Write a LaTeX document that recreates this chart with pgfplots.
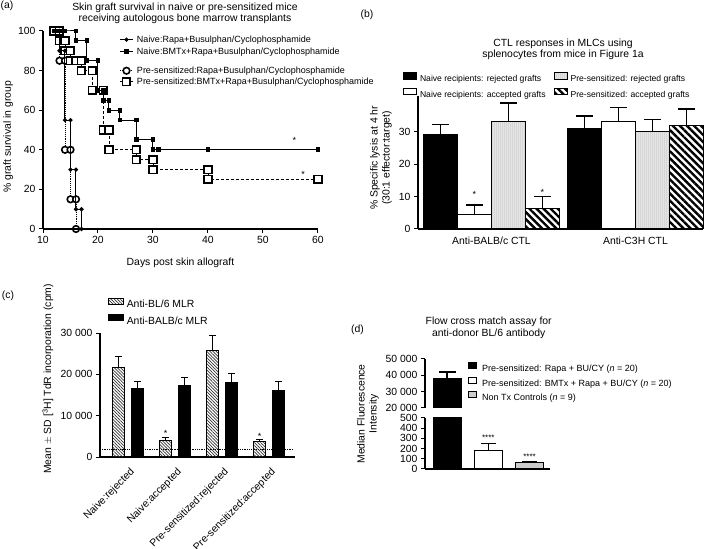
\documentclass[border=0pt]{standalone}
\usepackage{fontspec}
\setmainfont{Liberation Sans}
\usepackage{pgfplots}
\pgfplotsset{compat=1.18}
\usetikzlibrary{patterns,patterns.meta}
\newcommand\fT{\fontsize{10.4bp}{12bp}\selectfont}
\newcommand\fL{\fontsize{9bp}{10.5bp}\selectfont}
\newcommand\fB{\fontsize{8.6bp}{10bp}\selectfont}
\newcommand\fS{\fontsize{8bp}{9bp}\selectfont}
\pgfplotsset{
  gp/.style={
    scale only axis, anchor=south west,
    axis x line*=bottom, axis y line*=left,
    axis line style={-, line width=1.1bp, black},
    tick align=outside, major tick length=4bp,
    tick style={black, line width=1bp},
    tick label style={font=\fT},
    scaled y ticks=false,
    /pgf/number format/assume math mode=true,
    legend style={draw=none, fill=none, inner sep=0pt, outer sep=0pt, anchor=north west},
    legend cell align=left,
  },
  ebar/.style={/pgfplots/error bars/y dir=plus, /pgfplots/error bars/y explicit,
    /pgfplots/error bars/error bar style={line width=1.3bp, black, solid},
    /pgfplots/error bars/error mark options={rotate=90, line width=1.3bp, black, mark size=#1, solid}},
}
\begin{document}
\begin{tikzpicture}
\useasboundingbox (0,0) rectangle (709bp,549bp);
% ---------------- (a) ----------------
\node[font=\fT] at (7bp,543bp) {(a)};
\node[font=\fT, anchor=base] at (185bp,538.5bp) {Skin graft survival in naive or pre-sensitized mice};
\node[font=\fT, anchor=base] at (185bp,527.5bp) {receiving autologous bone marrow transplants};
\begin{axis}[gp, at={(43bp,320bp)}, width=275bp, height=198bp,
  xmin=10, xmax=60, ymin=0, ymax=100, hide axis, clip=false,
  legend style={at={(axis description cs:0.28,0.822)}, font=\fL, row sep=2bp,
     nodes={inner sep=0pt, text height=7bp, text depth=2bp},
     /tikz/every odd column/.append style={column sep=4bp}},
  legend image code/.code={\path[draw=none,fill=none] (0bp,-3bp) rectangle (13bp,3bp);
     \draw[mark repeat=2,mark phase=2,#1,overlay] plot coordinates {(0bp,0bp) (6.5bp,0bp) (13bp,0bp)};},
]
\addplot[black, line width=0.9bp, densely dotted, mark=*, mark size=3.3bp, mark options={solid, fill=white, draw=black, line width=1.6bp}]
 coordinates {(12,100) (13,100) (13,85) (14,85) (14,40) (15,40) (15,15) (16,15) (16,0)};
\addlegendentry{Pre-sensitized:Rapa+Busulphan/Cyclophosphamide}
\addplot[black, line width=0.9bp, dash pattern=on 3bp off 2bp, mark=square*, mark size=3.8bp, mark options={solid, fill=white, draw=black, line width=1.6bp}]
 coordinates {(12,100) (13,100) (13,95) (14,95) (14,90) (15,90) (15,85) (16,85) (17,85) (17,80) (19,80) (19,70) (21,70) (21,50) (22,50) (22,40) (27,40) (27,35) (30,35) (30,30) (40,30) (40,25) (60,25)};
\addlegendentry{Pre-sensitized:BMTx+Rapa+Busulphan/Cyclophosphamide}
\end{axis}
\begin{axis}[gp, at={(43bp,320bp)}, width=275bp, height=198bp,
  xmin=10, xmax=60, ymin=0, ymax=100, xtick={10,20,...,60}, ytick={0,20,...,100}, clip=false,
  xlabel={Days post skin allograft}, ylabel={\% graft survival in group},
  every axis x label/.style={at={(axis description cs:0.5,-0.182)}, anchor=base, font=\fT},
  every axis y label/.style={at={(axis description cs:-0.127,0.465)}, rotate=90, anchor=center, font=\fT},
  legend style={at={(axis description cs:0.28,0.979)}, font=\fL, row sep=3bp,
     nodes={inner sep=0pt, text height=7bp, text depth=2bp},
     /tikz/every odd column/.append style={column sep=4bp}},
  legend image code/.code={\path[draw=none,fill=none] (0bp,-3bp) rectangle (13bp,3bp);
     \draw[mark repeat=2,mark phase=2,#1,overlay] plot coordinates {(0bp,0bp) (6.5bp,0bp) (13bp,0bp)};},
]
\addplot[black, line width=1bp, mark=*, mark size=1.6bp]
 coordinates {(12,100) (13,100) (13,90) (14,90) (14,55) (15,55) (15,30) (16,30) (16,10) (17,10) (17,0)};
\addlegendentry{Naive:Rapa+Busulphan/Cyclophosphamide}
\addplot[black, line width=1bp, mark=square*, mark size=1.9bp]
 coordinates {(12,100) (12.5,100) (13,100) (13.5,100) (14,100) (16,100) (16,95) (18,95) (18,85) (20,85) (20,70) (21,70) (21,65) (22,65) (22,60) (24,60) (24,55) (27,55) (27,45) (30,45) (30,40) (31,40) (40,40) (60,40)};
\addlegendentry{Naive:BMTx+Rapa+Busulphan/Cyclophosphamide}
\node[font=\fL] at (axis cs:55.7,44.5) {*};
\node[font=\fL] at (axis cs:57.3,27.5) {*};
\end{axis}
% ---------------- (b) ----------------
\node[font=\fT] at (367bp,534bp) {(b)};
\node[font=\fT, anchor=base] at (563bp,502.5bp) {CTL responses in MLCs using};
\node[font=\fT, anchor=base] at (563bp,491bp) {splenocytes from mice in Figure 1a};
\begin{axis}[gp, at={(418bp,320bp)}, width=285bp, height=133bp,
  ymin=0, ymax=41.1, ytick={0,10,20,30},
  xmin=-0.51, xmax=1.469, xtick={0,1}, xticklabels={Anti-BALB/c CTL,Anti-C3H CTL},
  major x tick style={draw=none},
  ybar=0pt, bar width=34bp, clip=false,
  ylabel={\% Specific lysis at 4 hr\\(30:1 effector:target)},
  every axis y label/.style={at={(axis description cs:-0.13,0.534)}, rotate=90, anchor=center, align=center, font=\fT},
  legend columns=2, transpose legend,
  legend style={at={(axis description cs:-0.0526,1.179)}, font=\fB, row sep=4bp,
     nodes={inner sep=0pt, text height=7bp, text depth=2bp},
     /tikz/every odd column/.append style={column sep=3bp},
     /tikz/every even column/.append style={column sep=8bp}},
  legend image code/.code={\draw[#1] (0bp,0bp) rectangle (13bp,6.5bp);},
]
\addplot[fill=black, draw=black, line width=1bp, ebar=8.5bp] coordinates {(0,29.2) +- (0,3.1) (1,31.0) +- (0,3.9)};
\addlegendentry{Naive recipients: rejected grafts}
\addplot[fill=white, draw=black, line width=1bp, ebar=8.5bp] coordinates {(0,4.4) +- (0,3.0) (1,33.1) +- (0,4.4)};
\addlegendentry{Naive recipients: accepted grafts}
\addplot[draw=black, line width=1bp, fill=gray!12, postaction={pattern={Dots[distance=2bp,radius=0.5bp]}, pattern color=black!55}, ebar=8.5bp] coordinates {(0,33.1) +- (0,5.8) (1,30.0) +- (0,3.8)};
\addlegendentry{Pre-sensitized: rejected grafts}
\addplot[draw=black, line width=1bp, pattern={Lines[angle=-45,distance=5bp,line width=2.4bp]}, ebar=8.5bp] coordinates {(0,6.2) +- (0,3.8) (1,32.0) +- (0,5.1)};
\addlegendentry{Pre-sensitized: accepted grafts}
\node[font=\fL] at ([xshift=-17bp]axis cs:0,10.8) {*};
\node[font=\fL] at ([xshift=51bp]axis cs:0,11.3) {*};
\end{axis}
% ---------------- (c) ----------------
\node[font=\fT] at (8bp,253bp) {(c)};
\begin{axis}[gp, at={(100bp,92bp)}, width=195bp, height=124bp,
  ymin=0, ymax=30000, ytick={0,10000,20000,30000}, yticklabels={0,10 000,20 000,30 000},
  xmin=-0.596, xmax=3.553, xtick={0,1,2,3},
  xticklabels={Naive:rejected,Naive:accepted,Pre-sensitized:rejected,Pre-sensitized:accepted},
  xticklabel style={rotate=45, anchor=north east, font=\fT, yshift=-2bp},
  major x tick style={draw=none},
  ybar=6.5bp, bar width=12.5bp, clip=false,
  ylabel={Mean $\pm$ SD [\textsuperscript{3}H] TdR incorporation (cpm)},
  every axis y label/.style={at={(axis description cs:-0.267,0.63)}, rotate=90, anchor=center, font=\fT},
  legend style={at={(axis description cs:0.041,1.285)}, font=\fT, row sep=3.8bp,
     nodes={inner sep=0pt, text height=8bp, text depth=2.2bp},
     /tikz/every odd column/.append style={column sep=3bp}},
  legend image code/.code={\draw[#1] (0bp,0.5bp) rectangle (15bp,7bp);},
]
\addplot[draw=black, line width=0.8bp, pattern={Lines[angle=-45,distance=2.2bp,line width=0.7bp]}, pattern color=black!80, ebar=3.5bp]
 coordinates {(0,21700) +- (0,2600) (1,4100) +- (0,700) (2,25800) +- (0,3600) (3,3700) +- (0,600)};
\addlegendentry{Anti-BL/6 MLR}
\addplot[fill=black, draw=black, line width=0.8bp, ebar=3.5bp]
 coordinates {(0,16600) +- (0,1700) (1,17300) +- (0,2000) (2,18000) +- (0,2200) (3,16000) +- (0,2200)};
\addlegendentry{Anti-BALB/c MLR}
\addplot[sharp plot, black, densely dotted, line width=0.8bp, forget plot] coordinates {(-0.596,1800) (3.5,1800)};
\node[font=\fL] at ([xshift=-9.5bp]axis cs:1,5650) {*};
\node[font=\fL] at ([xshift=-9.5bp]axis cs:3,5100) {*};
\end{axis}
% ---------------- (d) ----------------
\node[font=\fT] at (357.5bp,219bp) {(d)};
\node[font=\fT, anchor=base] at (488.7bp,224bp) {Flow cross match assay for};
\node[font=\fT, anchor=base] at (488.7bp,212.3bp) {anti-donor BL/6 antibody};
\begin{axis}[gp, at={(425bp,141bp)}, width=125bp, height=49bp,
  axis x line=none, ymin=20000, ymax=50000, ytick={20000,30000,40000,50000},
  yticklabels={20 000,30 000,40 000,50 000},
  xmin=-0.533, xmax=2.494, ybar, bar width=28bp, bar shift=0pt,
  legend style={at={(axis description cs:0.344,0.935)}, font=\fL, row sep=3bp,
     nodes={inner sep=0pt, text height=7bp, text depth=2bp},
     /tikz/every odd column/.append style={column sep=5bp}},
  legend image code/.code={\draw[#1] (0bp,0.5bp) rectangle (8bp,6.5bp);},
]
\addplot[fill=black, draw=black, line width=1bp, ebar=8.5bp] coordinates {(0,38000) +- (0,4000)};
\addlegendentry{Pre-sensitized: Rapa + BU/CY (\textit{n} = 20)}
\addlegendimage{fill=white, draw=black, line width=1bp}
\addlegendentry{Pre-sensitized: BMTx + Rapa + BU/CY (\textit{n} = 20)}
\addlegendimage{fill=gray!40, draw=black, line width=1bp}
\addlegendentry{Non Tx Controls (\textit{n} = 9)}
\end{axis}
\begin{axis}[gp, at={(425bp,80bp)}, width=125bp, height=51bp,
  ymin=0, ymax=500, ytick={0,100,...,500},
  xmin=-0.533, xmax=2.494, xtick=\empty,
  ybar, bar width=28bp, bar shift=0pt,
  ylabel={Median Fluorescence\\Intensity},
  every axis y label/.style={at={(axis description cs:-0.456,1.08)}, rotate=90, anchor=center, align=center, font=\fT},
]
\addplot[fill=black, draw=black, line width=1bp, ebar=8.5bp] coordinates {(0,38000) +- (0,4000)};
\addplot[fill=white, draw=black, line width=1bp, ebar=7.5bp] coordinates {(1,185) +- (0,65)};
\addplot[fill=gray!40, draw=black, line width=1bp, ebar=7.5bp] coordinates {(2,60) +- (0,8)};
\end{axis}
\begin{axis}[at={(425bp,80bp)}, anchor=south west, scale only axis, width=125bp, height=51bp,
  ymin=0, ymax=500, xmin=-0.533, xmax=2.494, hide axis, clip=false]
\node[font=\fS] at (axis cs:1,305) {****};
\node[font=\fS] at (axis cs:2,125) {****};
\end{axis}
\end{tikzpicture}
\end{document}
